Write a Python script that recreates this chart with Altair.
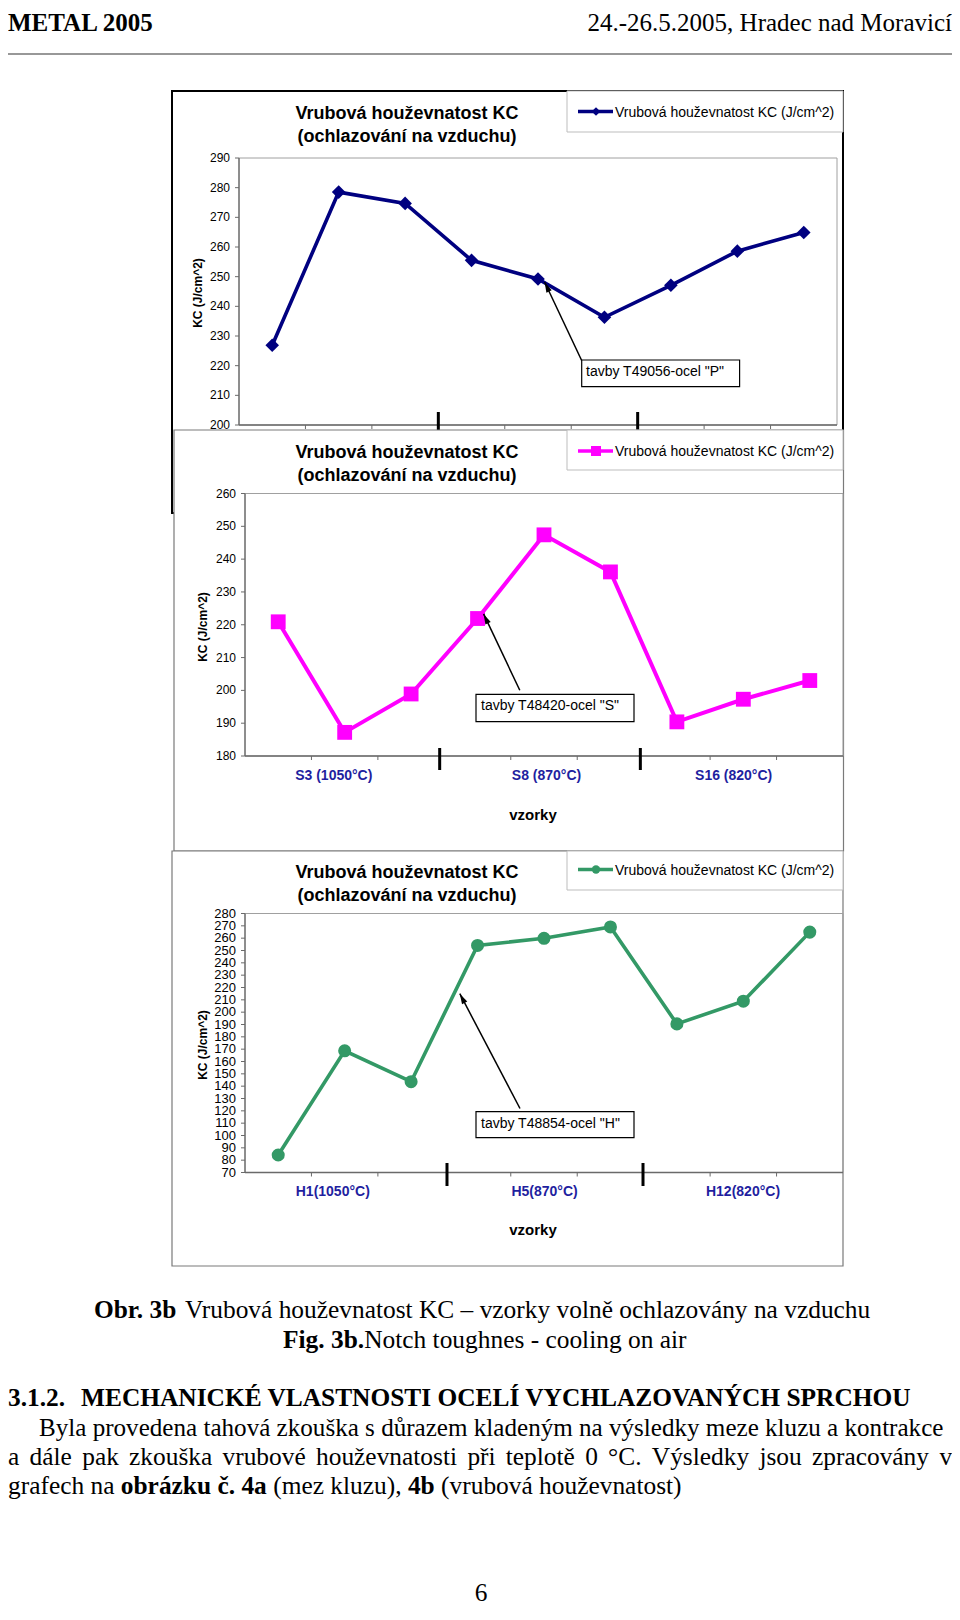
import math
import altair as alt
import pandas as pd

# ---------------- data ----------------
samples = [1, 2, 3, 4, 5, 6, 7, 8, 9]
kc_steel_P = [226.9, 278.5, 274.7, 255.5, 249.2, 236.3, 247.1, 258.6, 264.9]
kc_steel_S = [220.9, 187.2, 198.9, 221.9, 247.4, 236.1, 190.4, 197.3, 203.0]
kc_steel_H = [84.2, 168.7, 143.6, 254.1, 259.9, 269.1, 190.5, 208.9, 264.9]
ticks_P = [200, 210, 220, 230, 240, 250, 260, 270, 280, 290]
ticks_S = [180, 190, 200, 210, 220, 230, 240, 250, 260]
ticks_H = [70, 80, 90, 100, 110, 120, 130, 140, 150, 160, 170, 180, 190, 200,
           210, 220, 230, 240, 250, 260, 270, 280]
groups_S = ["S3 (1050°C)", "S8 (870°C)", "S16 (820°C)"]
groups_H = ["H1(1050°C)", "H5(870°C)", "H12(820°C)"]
chart_title = ["Vrubová houževnatost KC", "(ochlazování na vzduchu)"]
legend_label = "Vrubová houževnatost KC (J/cm^2)"
y_label = "KC (J/cm^2)"
x_label = "vzorky"
notes = ['tavby T49056-ocel "P"', 'tavby T48420-ocel "S"', 'tavby T48854-ocel "H"']

header_left = "METAL 2005"
header_right = "24.-26.5.2005, Hradec nad Moravicí"
caption_cz = ["Obr. 3b", "Vrubová houževnatost KC – vzorky volně ochlazovány na vzduchu"]
caption_en = ["Fig. 3b.", "Notch toughnes - cooling on air"]
heading = ["3.1.2.", "MECHANICKÉ VLASTNOSTI OCELÍ VYCHLAZOVANÝCH SPRCHOU"]
para1 = "Byla provedena tahová zkouška s důrazem kladeným na výsledky meze kluzu a kontrakce"
para2_words = ["a", "dále", "pak", "zkouška", "vrubové", "houževnatosti", "při", "teplotě",
               "0", "°C.", "Výsledky", "jsou", "zpracovány", "v"]
para3_parts = ["grafech na", "obrázku č. 4a", "(mez kluzu),", "4b", "(vrubová houževnatost)"]
page_no = "6"

# ---------------- helpers ----------------
SANS = "Arial, Liberation Sans, sans-serif"
SERIF = "Times New Roman, Liberation Serif, serif"
FS = 25.4  # body text size
OX, OY = 8, 8
one = pd.DataFrame({"k": [0]})


def px(v):
    return v - OX


def py(v):
    return v - OY


def text_at(s, x, y, size, bold=False, align="left", baseline="alphabetic",
            font=SANS, color="black", angle=0):
    mk = dict(text=s, fontSize=size, fontWeight="bold" if bold else "normal",
              align=align, baseline=baseline, font=font, color=color)
    if angle:
        mk["angle"] = angle
    return alt.Chart(one).mark_text(**mk).encode(x=alt.value(px(x)), y=alt.value(py(y)))


def box(x1, y1, x2, y2, stroke, sw=1.0, fill="white"):
    return alt.Chart(one).mark_rect(fill=fill, stroke=stroke, strokeWidth=sw).encode(
        x=alt.value(px(x1)), x2=alt.value(px(x2)), y=alt.value(py(y1)), y2=alt.value(py(y2)))


def seg(x1, y1, x2, y2, color="black", sw=1.0):
    return alt.Chart(one).mark_rule(color=color, strokeWidth=sw).encode(
        x=alt.value(px(x1)), x2=alt.value(px(x2)), y=alt.value(py(y1)), y2=alt.value(py(y2)))


ARROW = "M0,0L0.45,1.6L-0.45,1.6Z"


def arrow(x1, y1, x2, y2):
    ang = (math.degrees(math.atan2(x2 - x1, -(y2 - y1))) + 360) % 360
    head = alt.Chart(one).mark_point(shape=ARROW, filled=True, color="black", size=170,
                                     angle=ang, opacity=1, strokeWidth=0).encode(
        x=alt.value(px(x2)), y=alt.value(py(y2)))
    return [seg(x1, y1, x2, y2, "black", 1.5), head]


def panel(cfg):
    L, T, R, B = cfg["plot"]
    xs = alt.Scale(domain=[0.5, 9.5], range=[px(L), px(R)])
    ys = alt.Scale(domain=cfg["ydom"], range=[py(B), py(T)], zero=False, nice=False)

    def XE(f):
        return alt.X(f, scale=xs, axis=None)

    def YE(f):
        return alt.Y(f, scale=ys, axis=None)

    df = pd.DataFrame({"sample": samples, "kc": cfg["values"]})
    tdf = pd.DataFrame({"t": cfg["ticks"]})
    bdf = pd.DataFrame({"b": [s + 0.5 for s in samples[:-1] if s not in (3, 6)]})
    sdf = pd.DataFrame({"s": cfg["seps"]})

    lay = []
    fx1, fy1, fx2, fy2, fcol, fsw = cfg["frame"]
    lay.append(box(fx1, fy1, fx2, fy2, fcol, fsw))
    # plot area frame + axes
    lay.append(box(L, T, R, B, "#a0a0a0", 1.0, fill="transparent"))
    lay.append(seg(L, T, L, B, "#6a6a6a", 1.3))
    lay.append(seg(L, B, R, B, "#6a6a6a", 1.3))
    lay.append(alt.Chart(tdf).mark_rule(color="#6a6a6a", strokeWidth=1).encode(
        y=YE("t:Q"), x=alt.value(px(L - 4)), x2=alt.value(px(L))))
    lay.append(alt.Chart(tdf).mark_text(align="right", baseline="middle",
                                        fontSize=cfg["tick_size"], font=SANS, color="black").encode(
        y=YE("t:Q"), x=alt.value(px(cfg["tick_right"])), text="t:Q"))
    lay.append(alt.Chart(bdf).mark_rule(color="#6a6a6a", strokeWidth=1).encode(
        x=XE("b:Q"), y=alt.value(py(B)), y2=alt.value(py(B + 4))))
    sy1, sy2 = cfg["sep_y"]
    lay.append(alt.Chart(sdf).mark_rule(color="black", strokeWidth=3).encode(
        x=XE("s:Q"), y=alt.value(py(sy1)), y2=alt.value(py(sy2))))
    if cfg.get("groups"):
        gdf = pd.DataFrame({"g": cfg["groups"], "gx": cfg["group_x"]})
        lay.append(alt.Chart(gdf).mark_text(align="center", baseline="middle", fontSize=14,
                                            fontWeight="bold", font=SANS, color="#1f1fa0").encode(
            x=XE("gx:Q"), y=alt.value(py(cfg["group_y"])), text="g:N"))
        lay.append(text_at(x_label, 533, cfg["xlabel_y"], 15, bold=True, align="center",
                           baseline="middle"))
    # data
    lay.append(alt.Chart(df).mark_line(color=cfg["color"], strokeWidth=cfg["lw"]).encode(
        x=XE("sample:Q"), y=YE("kc:Q")))
    lay.append(alt.Chart(df).mark_point(shape=cfg["shape"], filled=True, color=cfg["color"],
                                        size=cfg["msize"], opacity=1).encode(
        x=XE("sample:Q"), y=YE("kc:Q")))
    # annotation
    ax1, ay1, ax2, ay2 = cfg["arrow"]
    lay += arrow(ax1, ay1, ax2, ay2)
    nb = cfg["note_box"]
    lay.append(box(nb[0], nb[1], nb[2], nb[3], "black", 1.2))
    lay.append(text_at(cfg["note"], cfg["note_xy"][0], cfg["note_xy"][1], 14))
    # legend
    lb = cfg["legend_box"]
    lay.append(box(lb[0], lb[1], lb[2], lb[3], "#bdbdbd", 1.0))
    ly = cfg["legend_y"]
    lay.append(seg(578, ly, 613, ly, cfg["color"], 3.5))
    lay.append(alt.Chart(one).mark_point(shape=cfg["shape"], filled=True, color=cfg["color"],
                                         size=cfg["lsize"], opacity=1).encode(
        x=alt.value(px(596)), y=alt.value(py(ly))))
    lay.append(text_at(legend_label, 615, ly + 5.3, 14))
    # titles
    t1, t2 = cfg["title_y"]
    lay.append(text_at(chart_title[0], 407, t1, 18, bold=True, align="center"))
    lay.append(text_at(chart_title[1], 407, t2, 18, bold=True, align="center"))
    yx, yy = cfg["ytitle"]
    lay.append(text_at(y_label, yx, yy, 12, bold=True, align="center", baseline="middle",
                       angle=270))
    return alt.layer(*lay)


p1 = panel(dict(
    plot=(239, 158, 837, 425), ydom=[200, 290], values=kc_steel_P, ticks=ticks_P,
    tick_size=12, tick_right=230, frame=(172, 91, 843, 513, "black", 2.0),
    seps=[3.5, 6.5], sep_y=(412, 436), color="#000080", lw=3.6, shape="diamond",
    msize=185, lsize=75, arrow=(581.8, 360.7, 544.6, 282.0),
    note_box=(581.7, 360, 739.6, 386.7), note=notes[0], note_xy=(586, 376),
    legend_box=(567, 91, 843, 132), legend_y=111.5, title_y=(118.5, 142),
    ytitle=(198, 293)))

p2 = panel(dict(
    plot=(245, 493.5, 843, 756), ydom=[180, 260], values=kc_steel_S, ticks=ticks_S,
    tick_size=12, tick_right=236, frame=(174, 430, 843.5, 851, "#7a7a7a", 1.2),
    seps=[3.43, 6.45], sep_y=(748, 770), color="#ff00ff", lw=4, shape="square",
    msize=220, lsize=100, arrow=(519.8, 690.3, 483.6, 613.9),
    note_box=(476, 694.3, 634, 721.7), note=notes[1], note_xy=(481, 710),
    legend_box=(567, 430, 843, 470), legend_y=451, title_y=(457.7, 481),
    ytitle=(202.6, 627), groups=groups_S, group_x=[1.836, 5.038, 7.854],
    group_y=775.5, xlabel_y=815))

p3 = panel(dict(
    plot=(245, 913.5, 843, 1172.5), ydom=[70, 280], values=kc_steel_H, ticks=ticks_H,
    tick_size=13, tick_right=236, frame=(172, 851, 843, 1266, "#7a7a7a", 1.2),
    seps=[3.54, 6.49], sep_y=(1163, 1186), color="#339966", lw=3.6, shape="circle",
    msize=170, lsize=70, arrow=(520, 1108.5, 459.8, 993.7),
    note_box=(476, 1111.7, 634, 1137.7), note=notes[2], note_xy=(481, 1128),
    legend_box=(567, 851, 843, 890), legend_y=869.5, title_y=(878, 901),
    ytitle=(202.6, 1045), groups=groups_H, group_x=[1.821, 5.009, 7.995],
    group_y=1192, xlabel_y=1229.5))

# ---------------- page text ----------------
page = []
page.append(text_at(header_left, 8, 30.5, 25, bold=True, font=SERIF))
page.append(text_at(header_right, 952, 30.5, 25, align="right", font=SERIF))
page.append(seg(8, 54, 952, 54, "#333333", 1.2))
page.append(text_at(caption_cz[0], 94, 1318, FS, bold=True, font=SERIF))
page.append(text_at(caption_cz[1], 185.0, 1318, FS, font=SERIF))
page.append(text_at(caption_en[0], 283, 1348, FS, bold=True, font=SERIF))
page.append(text_at(caption_en[1], 364.2, 1348, FS, font=SERIF))
page.append(text_at(heading[0], 8, 1406, FS, bold=True, font=SERIF))
page.append(text_at(heading[1], 81, 1406, FS, bold=True, font=SERIF))
page.append(text_at(para1, 39, 1436, 25.1, font=SERIF))
word_x = [8, 29.5, 82.2, 129.1, 222.5, 316.0, 467.4, 505.8, 585.2, 608.1, 651.8,
          759.4, 812.0, 939.4]
for w, x in zip(para2_words, word_x):
    page.append(text_at(w, x, 1465, FS, font=SERIF))
part_x = [8, 120.8, 273.2, 407.9, 441.1]
part_bold = [False, True, False, True, False]
for s, x, b in zip(para3_parts, part_x, part_bold):
    page.append(text_at(s, x, 1494, FS, bold=b, font=SERIF))
page.append(text_at(page_no, 481, 1601, FS, align="center", font=SERIF))

chart = alt.layer(*page, p1, p2, p3).resolve_scale(
    x="independent", y="independent"
).properties(
    width=944, height=1600, padding=0, autosize="none"
).configure(background="white").configure_view(strokeWidth=0)

chart.save("out.html", embed_options={"renderer": "svg", "actions": False})
